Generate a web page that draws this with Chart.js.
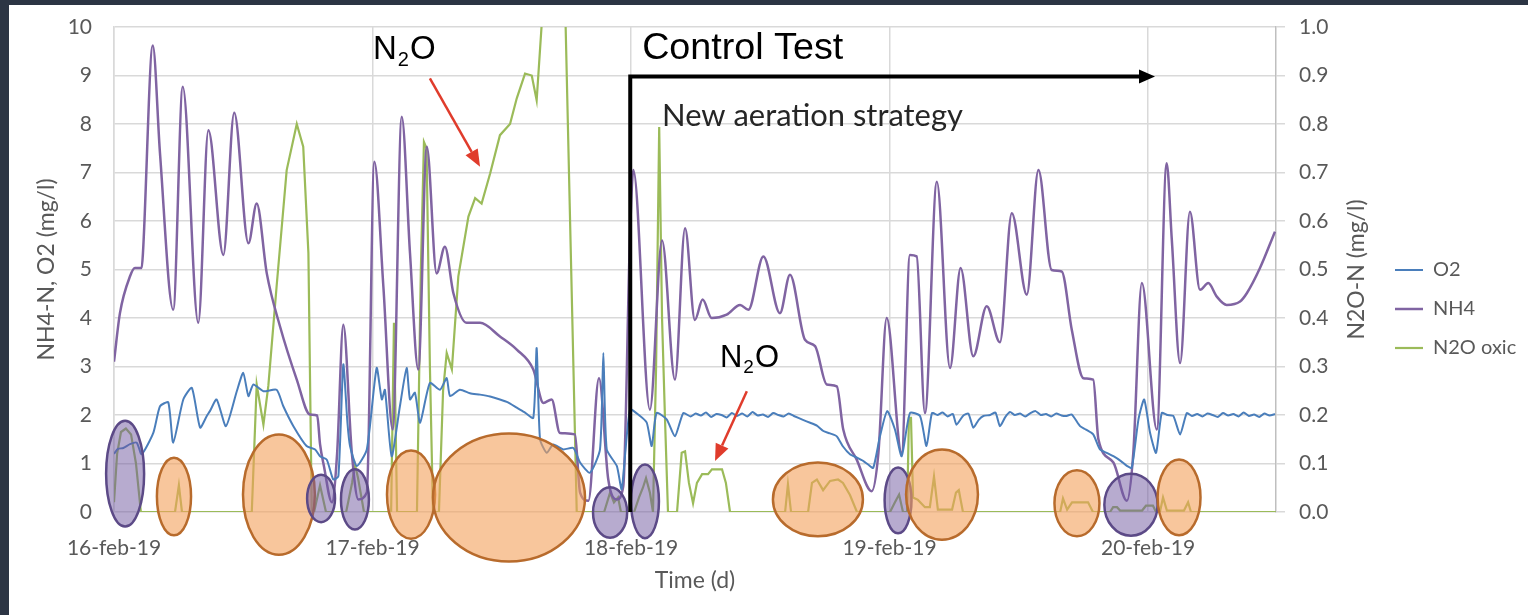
<!DOCTYPE html>
<html>
<head>
<meta charset="utf-8">
<title>N2O control test</title>
<script src="https://cdn.jsdelivr.net/npm/chart.js@4"></script>
<style>
  html, body { margin: 0; padding: 0; background: #2c3544; width: 1528px; height: 615px; overflow: hidden; }
  #wrap { position: absolute; left: 9px; top: 5px; width: 1519px; height: 610px; background: #fff; }
</style>
</head>
<body>
<div id="wrap"><canvas id="n2oChart"></canvas></div>
<script>
// x values are days since 16-feb-19 00:00
const dayLabels = ['16-feb-19', '17-feb-19', '18-feb-19', '19-feb-19', '20-feb-19'];

const o2Time = [0.000,0.015,0.036,0.062,0.088,0.107,0.152,0.178,0.210,0.229,
  0.268,0.301,0.333,0.359,0.371,0.397,0.433,0.475,0.500,0.520,
  0.539,0.578,0.629,0.655,0.694,0.745,0.778,0.797,0.823,0.848,
  0.868,0.887,0.903,0.913,0.939,0.978,1.016,1.036,1.048,1.074,
  1.106,1.132,1.145,1.164,1.184,1.222,1.261,1.287,1.300,1.338,
  1.377,1.416,1.455,1.493,1.524,1.558,1.590,1.622,1.635,1.648,
  1.674,1.699,1.738,1.777,1.803,1.841,1.880,1.893,1.906,1.945,
  1.964,1.996,2.035,2.061,2.080,2.099,2.138,2.170,2.202,
  2.23,2.25,2.27,2.29,2.31,2.33,2.35,2.37,2.39,2.41,2.43,2.45,2.47,2.49,2.51,2.53,2.55,2.57,2.59,2.61,2.63,
  2.665,2.693,2.719,2.744,2.770,2.796,2.820,2.847,2.874,
  2.899,2.917,2.937,2.963,2.991,3.021,3.047,3.079,3.118,3.143,
  3.164,3.185,3.205,3.225,3.245,3.259,3.284,3.305,3.324,3.345,3.363,3.389,3.410,3.427,3.447,3.466,
  3.485,3.505,3.525,3.545,3.565,3.585,3.605,3.625,3.645,3.665,3.685,3.705,3.737,3.760,3.788,3.814,3.840,3.866,3.895,3.918,
  3.937,3.963,3.985,4.008,4.031,4.053,4.075,4.098,4.124,4.150,
  4.17,4.19,4.21,4.23,4.25,4.27,4.29,4.31,4.33,4.35,4.37,4.39,4.41,4.43,4.45,4.47,4.491];
const o2Values = [1.2,1.3,1.32,1.4,1.43,1.19,1.63,2.18,2.26,1.43,
  2.32,2.56,1.74,1.98,2.08,2.32,1.77,2.49,2.87,2.39,
  2.63,2.49,2.52,2.18,1.77,1.36,1.29,1.15,1.08,0.67,
  0.74,3.04,1.84,1.36,0.95,1.29,2.97,2.32,2.52,1.15,
  2.18,2.97,2.32,2.46,1.84,2.66,2.52,2.76,2.39,2.52,
  2.45,2.42,2.38,2.32,2.26,2.15,2.05,1.94,3.38,1.5,
  1.22,1.39,1.29,1.32,1.02,0.81,1.29,3.28,1.29,0.95,
  0.47,2.11,1.98,1.84,1.36,2.04,1.91,1.56,2.04,
  1.97,2.03,1.99,2.05,1.96,2.02,2.0,1.95,2.04,1.98,2.03,1.97,2.06,1.99,2.01,1.96,2.04,2.0,1.97,2.03,1.98,
  1.9,1.84,1.78,1.67,1.62,1.56,1.35,1.19,1.12,
  1.05,0.98,0.91,1.56,2.08,1.7,1.15,2.04,1.98,1.36,
  2.04,2.0,2.05,1.97,2.02,1.8,1.98,2.03,1.74,1.9,1.98,2.0,2.05,1.77,1.95,2.06,
  2.0,2.03,1.97,2.04,2.08,2.0,2.02,1.97,2.03,1.99,1.98,2.01,1.77,1.7,1.6,1.29,1.22,1.15,1.05,0.95,
  0.91,1.91,2.32,1.63,1.22,2.04,2.0,1.98,1.6,2.04,
  1.98,2.02,1.97,2.03,2.0,1.96,2.04,1.99,2.02,1.97,2.05,1.98,2.01,1.96,2.03,1.99,2.02];

const nh4Time = [0.000,0.023,0.062,0.081,0.107,0.112,0.150,0.178,0.229,0.266,
  0.326,0.365,0.423,0.465,0.520,0.552,0.591,0.642,0.707,0.758,
  0.786,0.797,0.812,0.843,0.863,0.887,0.920,0.945,0.978,1.007,
  1.042,1.078,1.113,1.145,1.177,1.210,1.248,1.280,1.313,1.364,
  1.416,1.493,1.558,1.622,1.661,1.693,1.725,1.783,1.803,1.835,
  1.876,1.912,1.945,1.970,1.996,2.009,2.073,2.120,2.170,2.209,
  2.247,2.277,2.312,2.370,2.422,2.454,2.512,2.576,2.615,2.673,
  2.712,2.757,2.796,2.821,2.873,2.931,2.957,2.989,3.047,3.079,
  3.105,3.137,3.183,3.234,3.275,3.324,3.376,3.427,3.473,3.531,
  3.576,3.627,3.666,3.705,3.750,3.788,3.808,3.866,3.918,3.943,
  3.976,4.034,4.072,4.092,4.124,4.162,4.201,4.233,4.266,4.304,
  4.356,4.382,4.433,4.491];
const nh4Values = [3.1,4.1,4.86,5.03,5.03,5.34,9.62,7.39,4.17,8.77,
  3.9,7.87,5.3,8.23,5.54,6.36,4.92,3.83,2.73,2.01,
  1.99,1.4,0.95,0.2,1.2,3.86,1.22,0.26,0.4,7.22,
  4.65,1.7,8.15,5.34,2.94,7.53,4.92,5.47,4.51,3.9,
  3.9,3.62,3.35,2.94,2.25,2.32,1.63,1.6,0.4,0.23,
  2.76,0.67,0.26,0.53,5.68,7.05,2.11,5.6,2.73,5.85,
  3.96,4.38,4.0,4.07,4.27,4.17,5.27,4.1,4.89,3.55,
  3.42,2.63,2.59,1.7,1.08,0.43,1.22,4.0,1.22,5.3,
  5.27,2.04,6.81,2.97,5.03,3.21,4.24,3.5,6.16,4.48,
  7.05,4.99,4.96,3.76,2.76,2.73,1.5,1.02,0.23,1.22,
  4.72,1.7,7.19,5.61,3.07,6.19,4.58,4.72,4.44,4.27,
  4.34,4.51,5.03,5.78];

// N2O on the right axis (mg/l)
const n2oTime = [0.000,0.012,0.027,0.046,0.066,0.085,0.104,0.236,0.251,0.263,
  0.533,0.552,0.578,0.597,0.629,0.668,0.707,0.732,0.752,0.765,
  0.774,0.797,0.820,0.898,0.921,0.932,0.944,0.967,1.072,1.083,
  1.095,1.172,1.187,1.199,1.209,1.222,1.234,1.257,1.273,1.287,
  1.307,1.332,1.371,1.397,1.422,1.455,1.493,1.532,1.558,1.590,
  1.616,1.635,1.660,1.702,1.745,1.790,1.896,1.919,1.934,1.950,
  1.961,2.012,2.031,2.046,2.058,2.073,2.085,2.097,2.109,2.120,
  2.131,2.143,2.178,2.196,2.209,2.224,2.240,2.255,2.275,2.298,
  2.313,2.352,2.367,2.383,2.596,2.607,2.619,2.685,2.700,2.719,
  2.743,2.770,2.801,2.820,2.847,2.874,3.002,3.021,3.037,3.052,
  3.068,3.075,3.083,3.091,3.110,3.137,3.156,3.172,3.187,3.242,
  3.257,3.268,3.284,3.660,3.671,3.687,3.706,3.768,3.787,3.853,
  3.865,3.880,3.892,3.977,3.992,4.019,4.031,4.046,4.058,4.073,
  4.139,4.155,4.166,4.495];
const n2oValues = [0.02,0.12,0.165,0.172,0.16,0.1,0.0,0.0,0.055,0.0,
  0.0,0.263,0.18,0.26,0.465,0.705,0.80,0.753,0.534,0.0,
  0.0,0.055,0.0,0.0,0.06,0.098,0.07,0.0,0.0,0.39,
  0.0,0.0,0.5,0.763,0.75,0.3,0.0,0.0,0.25,0.328,
  0.294,0.486,0.609,0.647,0.636,0.698,0.777,0.80,0.853,0.904,
  0.90,0.849,1.05,1.6,1.05,0.0,0.0,0.04,0.02,0.03,
  0.0,0.0,0.03,0.05,0.07,0.04,0.0,0.3,0.794,0.4,
  0.2,0.0,0.0,0.122,0.125,0.06,0.018,0.06,0.078,0.078,
  0.088,0.088,0.06,0.0,0.0,0.057,0.0,0.0,0.06,0.067,
  0.045,0.064,0.067,0.06,0.035,0.0,0.0,0.02,0.036,0.0,
  0.0,0.194,0.194,0.03,0.025,0.01,0.01,0.073,0.005,0.005,
  0.04,0.045,0.0,0.0,0.028,0.005,0.02,0.02,0.0,0.0,
  0.01,0.01,0.003,0.003,0.013,0.013,0.0,0.0,0.03,0.003,
  0.003,0.02,0.0,0.0];

// hand-drawn highlight rings (day, left-axis level, half width in days, half height in mg/l)
const highlights = [
  { kind: 'purple', day: 0.043, level: 0.79, halfDays: 0.0735, halfLevel: 1.09 },
  { kind: 'orange', day: 0.232, level: 0.32, halfDays: 0.066, halfLevel: 0.80 },
  { kind: 'orange', day: 0.638, level: 0.36, halfDays: 0.139, halfLevel: 1.24 },
  { kind: 'purple', day: 0.801, level: 0.28, halfDays: 0.054, halfLevel: 0.49 },
  { kind: 'purple', day: 0.932, level: 0.26, halfDays: 0.054, halfLevel: 0.62 },
  { kind: 'orange', day: 1.149, level: 0.36, halfDays: 0.093, halfLevel: 0.91 },
  { kind: 'orange', day: 1.528, level: 0.30, halfDays: 0.294, halfLevel: 1.32 },
  { kind: 'purple', day: 1.919, level: -0.01, halfDays: 0.066, halfLevel: 0.52 },
  { kind: 'purple', day: 2.054, level: 0.22, halfDays: 0.054, halfLevel: 0.76 },
  { kind: 'orange', day: 2.723, level: 0.26, halfDays: 0.174, halfLevel: 0.76 },
  { kind: 'purple', day: 3.033, level: 0.24, halfDays: 0.052, halfLevel: 0.68 },
  { kind: 'orange', day: 3.203, level: 0.36, halfDays: 0.139, halfLevel: 0.93 },
  { kind: 'orange', day: 3.725, level: 0.18, halfDays: 0.087, halfLevel: 0.68 },
  { kind: 'purple', day: 3.934, level: 0.15, halfDays: 0.103, halfLevel: 0.64 },
  { kind: 'orange', day: 4.120, level: 0.30, halfDays: 0.083, halfLevel: 0.78 }
];
const ringStyle = {
  purple: { fill: 'rgba(112, 88, 160, 0.5)', line: '#5c4a87' },
  orange: { fill: 'rgba(244, 160, 90, 0.6)', line: '#b86b2c' }
};

const controlDay = 1.997, controlLevel = 8.98, controlEndDay = 4.027;
const redArrows = [
  { fromDay: 1.222, fromLevel: 8.94, toDay: 1.416, toLevel: 7.12 },
  { fromDay: 2.448, fromLevel: 2.49, toDay: 2.325, toLevel: 1.05 }
];

function toPoints(times, values) {
  return times.map((t, i) => ({ x: t, y: values[i] }));
}

function drawArrow(ctx, x0, y0, x1, y1) {
  const ang = Math.atan2(y1 - y0, x1 - x0), len = 17, half = 7;
  const bx = x1 - len * Math.cos(ang), by = y1 - len * Math.sin(ang);
  ctx.strokeStyle = '#e03c2c';
  ctx.fillStyle = '#e03c2c';
  ctx.lineWidth = 2.5;
  ctx.beginPath(); ctx.moveTo(x0, y0); ctx.lineTo(bx, by); ctx.stroke();
  ctx.beginPath();
  ctx.moveTo(x1, y1);
  ctx.lineTo(bx - half * Math.sin(ang), by + half * Math.cos(ang));
  ctx.lineTo(bx + half * Math.sin(ang), by - half * Math.cos(ang));
  ctx.closePath(); ctx.fill();
}

function drawN2O(ctx, x, y, size) {
  ctx.fillStyle = '#000';
  ctx.font = size + 'px "Liberation Sans"';
  ctx.fillText('N', x, y);
  let w = ctx.measureText('N').width + 1;
  ctx.font = Math.round(size * 0.62) + 'px "Liberation Sans"';
  ctx.fillText('2', x + w, y + size * 0.22);
  w += ctx.measureText('2').width + 1;
  ctx.font = size + 'px "Liberation Sans"';
  ctx.fillText('O', x + w, y);
}

function fitText(ctx, text, family, width) {
  ctx.font = '100px ' + family;
  const size = 100 * width / ctx.measureText(text).width;
  ctx.font = size.toFixed(1) + 'px ' + family;
}

// keep the tick-label overflow from pushing the plot area down
function noVerticalPadding(scale) {
  scale.paddingTop = 0;
  scale.paddingBottom = 0;
}

const overlayPlugin = {
  id: 'overlay',
  afterDatasetsDraw(chart) {
    const { ctx, scales: { x, y } } = chart;
    const px = d => x.getPixelForValue(d);
    const py = v => y.getPixelForValue(v);
    ctx.save();

    highlights.forEach(h => {
      const st = ringStyle[h.kind];
      ctx.beginPath();
      ctx.ellipse(px(h.day), py(h.level), px(h.day + h.halfDays) - px(h.day),
        py(h.level) - py(h.level + h.halfLevel), 0, 0, Math.PI * 2);
      ctx.fillStyle = st.fill;
      ctx.fill();
      ctx.lineWidth = 2.5;
      ctx.strokeStyle = st.line;
      ctx.stroke();
    });

    // control test bracket
    const cx0 = px(controlDay), cx1 = px(controlEndDay), cyTop = py(controlLevel);
    ctx.strokeStyle = '#000';
    ctx.lineWidth = 4;
    ctx.lineJoin = 'miter';
    ctx.beginPath();
    ctx.moveTo(cx0, py(0));
    ctx.lineTo(cx0, cyTop);
    ctx.lineTo(cx1 - 10, cyTop);
    ctx.stroke();
    ctx.fillStyle = '#000';
    ctx.beginPath();
    ctx.moveTo(cx1, cyTop);
    ctx.lineTo(cx1 - 16, cyTop - 7);
    ctx.lineTo(cx1 - 16, cyTop + 7);
    ctx.closePath();
    ctx.fill();

    redArrows.forEach(a => drawArrow(ctx, px(a.fromDay), py(a.fromLevel), px(a.toDay), py(a.toLevel)));

    ctx.textBaseline = 'alphabetic';
    ctx.textAlign = 'left';
    drawN2O(ctx, px(1.002), py(9.35), 33);
    drawN2O(ctx, px(2.344), py(3.0), 31);

    ctx.fillStyle = '#000';
    fitText(ctx, 'Control Test', '"Liberation Sans"', 201);
    ctx.fillText('Control Test', px(2.043), py(9.35));

    ctx.fillStyle = '#262626';
    fitText(ctx, 'New aeration strategy', 'Lato', 301);
    ctx.fillText('New aeration strategy', px(2.12), py(7.95));

    ctx.restore();
  },
  afterDraw(chart) {
    const { ctx, chartArea } = chart;
    const y1 = chart.scales.y1;
    ctx.save();
    ctx.translate(y1.right - 19, (chartArea.top + chartArea.bottom) / 2);
    ctx.rotate(-Math.PI / 2);
    ctx.textAlign = 'center';
    ctx.textBaseline = 'middle';
    ctx.fillStyle = '#595959';
    ctx.font = '23px Lato';
    ctx.fillText('N2O-N (mg/l)', 0, 0);
    ctx.restore();
  }
};

const tickFont = { family: 'Lato', size: 21 };
const titleFont = { family: 'Lato', size: 23 };
const gridColor = '#d9d9d9';

const ctx = document.getElementById('n2oChart').getContext('2d');
const n2oChart = new Chart(ctx, {
  type: 'line',
  data: {
    datasets: [
      {
        label: 'O2',
        data: toPoints(o2Time, o2Values),
        borderColor: '#4a7ebb',
        borderWidth: 2,
        pointRadius: 0,
        tension: 0.2,
        yAxisID: 'y'
      },
      {
        label: 'NH4',
        data: toPoints(nh4Time, nh4Values),
        borderColor: '#8064a2',
        borderWidth: 2.5,
        pointRadius: 0,
        cubicInterpolationMode: 'monotone',
        yAxisID: 'y'
      },
      {
        label: 'N2O oxic',
        data: toPoints(n2oTime, n2oValues),
        borderColor: '#9bbb59',
        borderWidth: 2.2,
        pointRadius: 0,
        tension: 0,
        yAxisID: 'y1'
      }
    ]
  },
  options: {
    responsive: true,
    maintainAspectRatio: false,
    animation: false,
    events: [],
    layout: { padding: { top: 22, right: 8, left: 0, bottom: 0 } },
    scales: {
      x: {
        type: 'linear',
        min: 0,
        max: 4.495,
        afterBuildTicks: s => { s.ticks = dayLabels.map((_, i) => ({ value: i })); },
        afterFit: s => { s.height = 103; },
        ticks: {
          callback: v => dayLabels[v],
          color: '#595959',
          font: tickFont,
          padding: 24,
          maxRotation: 0,
          autoSkip: false
        },
        grid: { color: gridColor, lineWidth: 1.5, drawTicks: false },
        border: { display: false },
        title: { display: true, text: 'Time (d)', color: '#595959', font: titleFont, padding: { top: 0, bottom: 21 } }
      },
      y: {
        position: 'left',
        min: 0,
        max: 10,
        afterFit: s => { s.width = 105; noVerticalPadding(s); },
        ticks: { stepSize: 1, color: '#595959', font: tickFont, padding: 22 },
        grid: { color: gridColor, lineWidth: 1.5, drawTicks: false },
        border: { display: true, color: gridColor, width: 1.5 },
        title: { display: true, text: 'NH4-N, O2 (mg/l)', color: '#595959', font: titleFont, padding: { top: 24, bottom: 0 } }
      },
      y1: {
        position: 'right',
        min: 0,
        max: 1,
        afterFit: s => { s.width = 100; noVerticalPadding(s); },
        ticks: { stepSize: 0.1, callback: v => v.toFixed(1), color: '#595959', font: tickFont, padding: 14 },
        grid: { drawOnChartArea: false, color: gridColor, lineWidth: 1.5, tickLength: 9 },
        border: { display: true, color: '#bfbfbf', width: 1.5 }
      }
    },
    plugins: {
      tooltip: { enabled: false },
      legend: {
        position: 'right',
        fullSize: false,
        maxWidth: 144,
        title: { display: true, text: '', font: { size: 10 }, padding: { top: 0, bottom: 67 } },
        labels: {
          usePointStyle: true,
          pointStyle: 'line',
          pointStyleWidth: 28,
          padding: 19,
          color: '#595959',
          font: { family: 'Lato', size: 20 }
        }
      }
    }
  },
  plugins: [overlayPlugin]
});
</script>
</body>
</html>
